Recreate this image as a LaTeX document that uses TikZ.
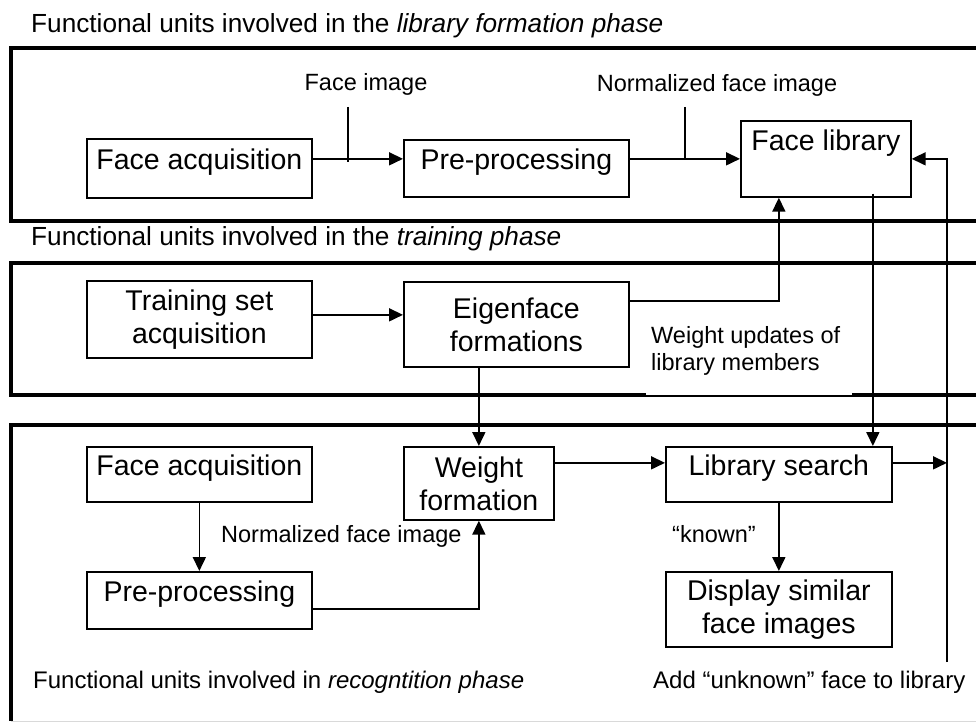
\documentclass[tikz,border=0pt]{standalone}
\usepackage{fontspec}
\setmainfont{Liberation Sans}
\usetikzlibrary{arrows.meta}

\begin{document}
\begin{tikzpicture}[x=1pt,y=-1pt,
  panel/.style={line width=3.5pt},
  box/.style={draw, line width=1.7pt, inner sep=0pt, anchor=north west,
    font=\fontsize{28.5}{33}\selectfont},
  onebox/.style={box, text height=21pt, text depth=19pt},
  twobox/.style={box, align=center},
  lbl/.style={inner sep=0pt, font=\fontsize{23.5}{27}\selectfont},
  ttl/.style={inner sep=0pt, anchor=base west, font=\fontsize{26.2}{30}\selectfont},
  wire/.style={line width=1.7pt},
  arr/.style={wire, -{Triangle[length=14pt,width=13pt]}}
]
\useasboundingbox (0,0) rectangle (976,722);
\clip (0,0) rectangle (976,722);

% phase frames (they run on past the right edge)
\draw[panel] (11,48) rectangle (1000,221);
\draw[panel] (11,263) rectangle (1000,395);
\draw[panel] (1000,425) -- (11,425) -- (11,721);
\draw[black!15, line width=1pt] (11,721) -- (976,721);

% phase titles
\node[ttl] (t1) at (31,33) {Functional units involved in the \textit{library formation phase}};
\node[ttl] (t2) at (31,245) {Functional units involved in the \textit{training phase}};
\node[ttl, font=\fontsize{24}{28}\selectfont] (t3) at (33,688) {Functional units involved in \textit{recogntition phase}};
\node[ttl, font=\fontsize{24}{28}\selectfont] (t4) at (653,688) {Add “unknown” face to library};

% library formation phase
\node[onebox, minimum width=225pt, minimum height=59pt] (FA1) at (86,138) {Face acquisition};
\node[onebox, minimum width=225pt, minimum height=57pt] (PP1) at (403,139) {Pre-processing};
\node[box, text height=21pt, text depth=37pt, minimum width=170pt, minimum height=76pt] (FL) at (740,120) {Face library};

% training phase
\node[twobox, minimum width=225pt, minimum height=77pt] (TS) at (86,280) {Training set\\acquisition};
\node[twobox, minimum width=225pt, minimum height=85pt] (EF) at (403,281) {Eigenface\\formations};
\node[lbl, anchor=base west, align=left] (WU) at (651,370) {Weight updates of\\library members};

% recognition phase
\node[onebox, minimum width=225pt, minimum height=55pt] (FA2) at (86,446) {Face acquisition};
\node[onebox, minimum width=225pt, minimum height=57pt] (PP2) at (86,571) {Pre-processing};
\node[twobox, minimum width=150pt, minimum height=73pt] (WF) at (403,446) {Weight\\formation};
\node[onebox, minimum width=226pt, minimum height=55pt] (LS) at (665,446) {Library search};
\node[twobox, minimum width=226pt, minimum height=75pt] (DS) at (665,571) {Display similar\\face images};

% edge labels
\node[lbl, anchor=base] (lFI) at (366,91) {Face image};
\node[lbl, anchor=base] (lNF1) at (717,92) {Normalized face image};
\node[lbl, anchor=base west] (lNF2) at (221,542) {Normalized face image};
\node[lbl, anchor=base west] (lKN) at (672,542) {“known”};

% thin strip of the training frame left under the label
\fill[white] (646,393) rectangle (852,395.0);

% connectors
\coordinate (tA) at (348,107);
\coordinate (tB) at (685,107);
\coordinate (ret) at (947,662);

\draw[arr] (FA1.east |- FL.west) -- (PP1.west |- FL.west);
\draw[wire] (tA) -- ++(0,55);
\draw[arr] (PP1.east |- FL.west) -- (FL.west);
\draw[wire] (tB) -- (tB |- FL.west);

\draw[arr] ([yshift=4.5pt]TS.east) -- ([yshift=4.5pt]TS.east -| EF.west);
\draw[arr] ([yshift=23.5pt]EF.east) -| ([xshift=-47pt]FL.south);
\draw[arr] ([xshift=47pt,yshift=4pt]FL.south) -- ([xshift=47pt]FL.south |- LS.north);
\draw[arr] (EF.south -| WF.north) -- (WF.north);

\draw[arr] (FA2.south) -- (PP2.north);
\draw[arr] ([yshift=-8.5pt]PP2.east) -| (WF.south);
\draw[arr] ([yshift=20.5pt]WF.east) -- ([yshift=20.5pt]WF.east -| LS.west);
\draw[arr] ([yshift=11.5pt]LS.east) -- ([yshift=11.5pt]LS.east -| ret);
\draw[arr] (LS.south) -- (DS.north);
\draw[arr] (ret) |- (FL.east);
\end{tikzpicture}
\end{document}
